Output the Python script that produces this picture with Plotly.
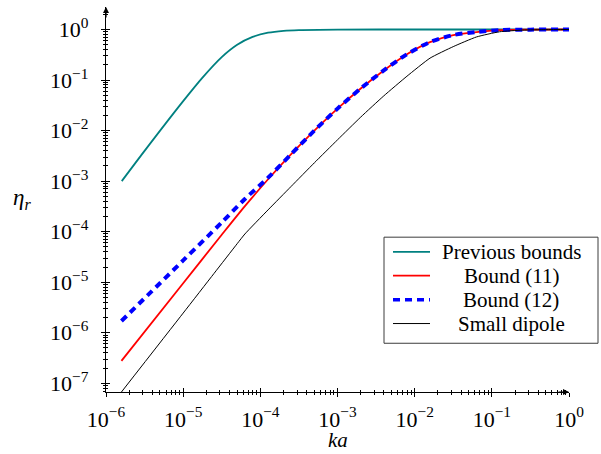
import plotly.graph_objects as go

# ---- data (ka, eta_r) ----
prev_x = [1.6e-6, 3.16e-6, 1.0e-5, 1.78e-5, 3.16e-5, 5.01e-5, 7.94e-5, 1.26e-4, 2.0e-4, 3.16e-4, 1.0e-3, 1.0e-2, 1.0e-1, 1.0]
prev_y = [1.0e-3, 3.97e-3, 0.0383, 0.112, 0.285, 0.5, 0.715, 0.863, 0.941, 0.975, 0.9975, 1.0, 1.0, 1.0]

b11_x = [1.585e-6, 1.0e-5, 3.16e-5, 6.31e-5, 1.26e-4, 2.51e-4, 5.01e-4, 1.0e-3, 2.0e-3, 3.98e-3, 7.94e-3,
         1.58e-2, 3.16e-2, 6.31e-2, 0.126, 0.316, 1.0]
b11_y = [2.78e-7, 9.55e-6, 8.71e-5, 3.21e-4, 1.09e-3, 3.42e-3, 9.98e-3, 2.72e-2, 6.82e-2, 0.155, 0.324,
         0.562, 0.776, 0.891, 0.973, 0.993, 1.0]

b12_x = [1.585e-6, 1.0e-5, 3.16e-5, 6.31e-5, 1.26e-4, 2.51e-4, 5.01e-4, 1.0e-3, 2.0e-3, 3.98e-3, 7.94e-3,
         1.58e-2, 3.16e-2, 6.31e-2, 0.126, 0.316, 1.0]
b12_y = [1.71e-6, 2.70e-5, 1.52e-4, 4.44e-4, 1.17e-3, 3.42e-3, 9.98e-3, 2.72e-2, 6.82e-2, 0.155, 0.324,
         0.562, 0.776, 0.891, 0.973, 0.993, 1.0]

dip_x = [1.585e-6, 1.0e-5, 2.51e-5, 5.01e-5, 6.31e-5, 1.26e-4, 2.51e-4, 5.01e-4, 1.0e-3, 2.0e-3, 3.98e-3,
         7.94e-3, 1.58e-2, 3.16e-2, 6.31e-2, 0.126, 0.251, 0.501, 1.0]
dip_y = [6.73e-8, 2.45e-6, 1.49e-5, 5.78e-5, 9.0e-5, 2.70e-4, 7.87e-4, 2.30e-3, 6.56e-3, 1.85e-2, 4.86e-2,
         0.119, 0.271, 0.458, 0.711, 0.902, 0.973, 0.993, 1.0]

series_names = ["Previous bounds", "Bound (11)", "Bound (12)", "Small dipole"]
series_colors = ["rgb(0,128,128)", "rgb(255,0,0)", "rgb(0,0,255)", "black"]
series_widths = [1.8, 1.8, 4, 1]
series_dash = ["solid", "solid", "7px,5px", "solid"]

x_tickvals = [1e-6, 1e-5, 1e-4, 1e-3, 1e-2, 1e-1, 1e0]
x_ticktext = ["10<sup>\u22126</sup>", "10<sup>\u22125</sup>", "10<sup>\u22124</sup>", "10<sup>\u22123</sup>",
              "10<sup>\u22122</sup>", "10<sup>\u22121</sup>", "10<sup>0</sup>"]
y_tickvals = [1e-7, 1e-6, 1e-5, 1e-4, 1e-3, 1e-2, 1e-1, 1e0]
y_ticktext = ["10<sup>\u22127</sup>", "10<sup>\u22126</sup>", "10<sup>\u22125</sup>", "10<sup>\u22124</sup>",
              "10<sup>\u22123</sup>", "10<sup>\u22122</sup>", "10<sup>\u22121</sup>", "10<sup>0</sup>"]

FONT = "Liberation Serif"

fig = go.Figure()
for xs, ys, i, sm in [(prev_x, prev_y, 0, 0.8), (b11_x, b11_y, 1, 0.8), (b12_x, b12_y, 2, 0.8), (dip_x, dip_y, 3, 0.5)]:
    fig.add_trace(go.Scatter(x=xs, y=ys, mode="lines", name=series_names[i], showlegend=False,
                             line=dict(color=series_colors[i], width=series_widths[i], dash=series_dash[i],
                                       shape="spline", smoothing=sm)))
# dummy trace for the inner-tick overlay axes
fig.add_trace(go.Scatter(x=[None], y=[None], xaxis="x2", yaxis="y2", showlegend=False, hoverinfo="skip"))

xr = [-6, 0]
yr = [-7.172, 0.445]

common_x = dict(type="log", range=xr, tickmode="array", tickvals=x_tickvals, showgrid=False, zeroline=False,
                automargin=False)
common_y = dict(type="log", range=yr, tickmode="array", tickvals=y_tickvals, showgrid=False, zeroline=False,
                automargin=False)

fig.update_layout(
    width=601, height=454,
    margin=dict(l=106, r=32, t=7, b=62, pad=0),
    paper_bgcolor="white", plot_bgcolor="white",
    font=dict(family=FONT, size=22, color="black"),
    showlegend=False,
    xaxis=dict(**common_x, ticktext=x_ticktext, ticks="outside", ticklen=4, tickwidth=1, tickcolor="black",
               showline=True, linecolor="black", linewidth=1.2,
               minor=dict(ticks="outside", ticklen=2, tickwidth=0.8, tickcolor="black", dtick="D1", showgrid=False),
               ticklabelstandoff=3, tickfont=dict(family=FONT, size=22)),
    yaxis=dict(**common_y, ticktext=y_ticktext, ticks="outside", ticklen=4, tickwidth=1, tickcolor="black",
               showline=True, linecolor="black", linewidth=1.2,
               minor=dict(ticks="outside", ticklen=2, tickwidth=0.8, tickcolor="black", dtick="D1", showgrid=False),
               ticklabelstandoff=8, tickfont=dict(family=FONT, size=22)),
    xaxis2=dict(**common_x, overlaying="x", matches="x", anchor="y2", side="bottom",
                ticks="inside", ticklen=4, tickwidth=1, tickcolor="black", showticklabels=False, showline=False,
                minor=dict(ticks="inside", ticklen=2, tickwidth=0.8, tickcolor="black", dtick="D1", showgrid=False)),
    yaxis2=dict(**common_y, overlaying="y", matches="y", anchor="x2", side="left",
                ticks="inside", ticklen=4, tickwidth=1, tickcolor="black", showticklabels=False, showline=False,
                minor=dict(ticks="inside", ticklen=2, tickwidth=0.8, tickcolor="black", dtick="D1", showgrid=False)),
)

# axis arrows
fig.add_annotation(xref="paper", yref="paper", x=1.0, y=0, ax=-12, ay=0, text="", showarrow=True,
                   arrowhead=2, arrowsize=1, arrowwidth=1.2, arrowcolor="black")
fig.add_annotation(xref="paper", yref="paper", x=0, y=1.0, ax=0, ay=12, text="", showarrow=True,
                   arrowhead=2, arrowsize=1, arrowwidth=1.2, arrowcolor="black")

# axis labels
fig.add_annotation(xref="paper", yref="paper", x=0.5, y=-0.1256, text="<i>ka</i>", showarrow=False,
                   xanchor="center", yanchor="middle", font=dict(family=FONT, size=21))
fig.add_annotation(xref="paper", yref="paper", x=-0.181, y=0.502, text="<i>η<sub>r</sub></i>", showarrow=False,
                   xanchor="center", yanchor="middle", font=dict(family=FONT, size=23))

# legend (drawn as a pgfplots-style box)
W, H, L, T = 463.0, 384.7, 106.0, 391.7
def px(X):
    return (X - L) / W
def py(Y):
    return (T - Y) / H

fig.add_shape(type="rect", xref="paper", yref="paper", x0=px(384), x1=px(598), y0=py(343), y1=py(237),
              line=dict(color="rgb(60,60,60)", width=1), fillcolor="white", layer="above")
row_y = [251.7, 275.5, 299.5, 323.3]
for i, name in enumerate(series_names):
    fig.add_shape(type="line", xref="paper", yref="paper", x0=px(393), x1=px(430), y0=py(row_y[i]), y1=py(row_y[i]),
                  line=dict(color=series_colors[i], width=series_widths[i] if i != 2 else 3.5,
                            dash=series_dash[i]), layer="above")
    fig.add_annotation(xref="paper", yref="paper", x=px(511), y=py(row_y[i]), text=name, showarrow=False,
                       xanchor="center", yanchor="middle", font=dict(family=FONT, size=21, color="black"))

fig.write_html("out.html", config={"displayModeBar": False},
               post_script="document.body.style.margin='0';document.body.style.padding='0';")
